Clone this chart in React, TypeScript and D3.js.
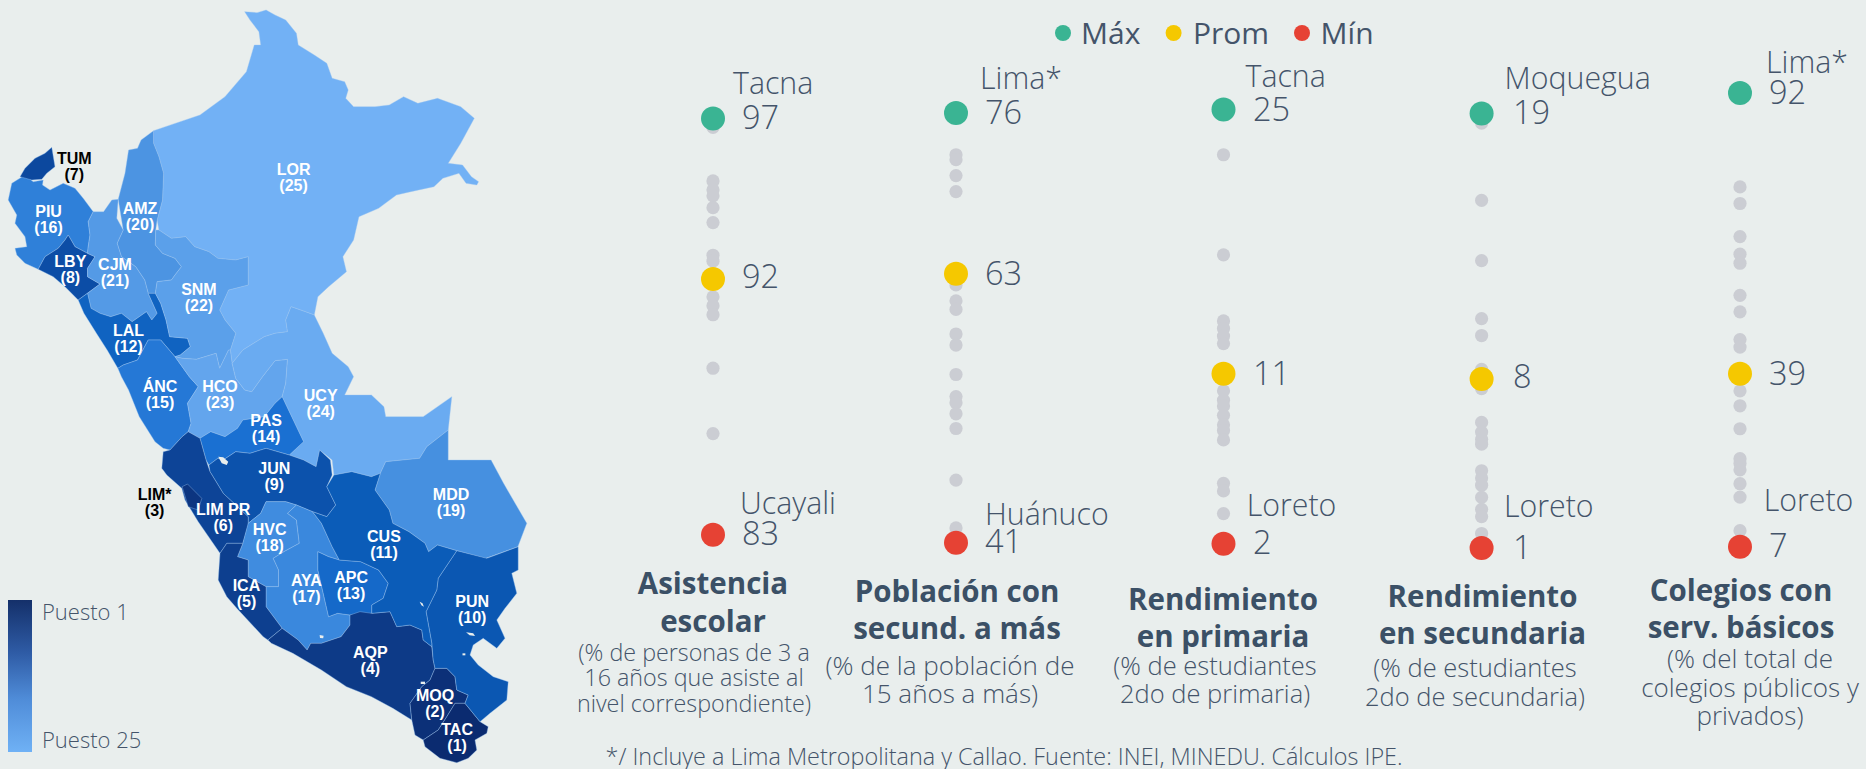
import React from 'react';
import * as d3 from 'd3';

// ---- strip plot data (values per department)
const asistencia = [96.7, 94.9, 94.6, 94.4, 94.0, 93.5, 92.4, 92.2, 91.0, 90.7, 90.4, 88.6, 86.4];
const poblacion = [72.6, 72.2, 70.9, 69.6, 62.0, 60.7, 60.0, 58.0, 57.1, 54.7, 52.9, 52.4, 51.5, 50.3, 46.1, 42.2];
const primaria = [22.6, 17.3, 13.8, 13.4, 13.0, 12.6, 10.1, 9.6, 9.3, 8.8, 8.3, 8.0, 7.5, 5.2, 4.8, 3.6];
const secundaria = [18.6, 15.4, 12.9, 10.5, 9.8, 8.4, 7.6, 6.2, 5.8, 5.5, 5.3, 4.2, 3.9, 3.6, 3.1, 2.6, 2.3, 1.6];
const colegios = [74.4, 71.3, 65.1, 61.8, 60.1, 54.1, 51.0, 45.8, 44.4, 36.2, 33.4, 29.1, 23.5, 22.6, 21.4, 18.8, 16.3, 10.0];

const maxValues = [97, 76, 25, 19, 92];
const avgValues = [91.6, 62.9, 11.0, 8.0, 39.4];
const minValues = [83, 41, 2, 1, 7];
const maxNames = ['Tacna', 'Lima*', 'Tacna', 'Moquegua', 'Lima*'];
const minNames = ['Ucayali', 'Huánuco', 'Loreto', 'Loreto', 'Loreto'];
const grayValues = [asistencia, poblacion, primaria, secundaria, colegios];

const titles = [
  ['Asistencia', 'escolar'],
  ['Población con', 'secund. a más'],
  ['Rendimiento', 'en primaria'],
  ['Rendimiento', 'en secundaria'],
  ['Colegios con', 'serv. básicos'],
];
const subtitles = [
  ['(% de personas de 3 a', '16 años que asiste al', 'nivel correspondiente)'],
  ['(% de la población de', '15 años a más)'],
  ['(% de estudiantes', '2do de primaria)'],
  ['(% de estudiantes', '2do de secundaria)'],
  ['(% del total de', 'colegios públicos y', 'privados)'],
];
const legendLabels = ['Máx', 'Prom', 'Mín'];

// ---- layout of every column, kept apart from the values
const columnLayout = [
  { x: 713, yMax: 118.5, yMin: 534.7, nameX: 733, nameMaxY: 94, valX: 742, valMaxY: 129, valAvgY: 288, nameMinX: 740, nameMinY: 514, valMinY: 545,
    titleX: 713, titleY: [594, 632], subX: 694, subY: [661, 686, 712], subSize: 23.3 },
  { x: 956, yMax: 113, yMin: 542.7, nameX: 980, nameMaxY: 89, valX: 985, valMaxY: 124, valAvgY: 285, nameMinX: 985, nameMinY: 525, valMinY: 553,
    titleX: 957, titleY: [602, 639], subX: 950, subY: [675, 703], subSize: 26 },
  { x: 1223.5, yMax: 109.4, yMin: 543.8, nameX: 1245.5, nameMaxY: 86.5, valX: 1253, valMaxY: 121, valAvgY: 385, nameMinX: 1246.7, nameMinY: 515.5, valMinY: 554,
    titleX: 1223, titleY: [610, 647], subX: 1215, subY: [675, 703], subSize: 25.5 },
  { x: 1481.6, yMax: 113.4, yMin: 548, nameX: 1504.6, nameMaxY: 89, valX: 1513, valMaxY: 124, valAvgY: 388, nameMinX: 1504, nameMinY: 517, valMinY: 559,
    titleX: 1482.5, titleY: [607, 644], subX: 1475, subY: [677, 706], subSize: 25.5 },
  { x: 1740, yMax: 93, yMin: 546.7, nameX: 1766, nameMaxY: 72.7, valX: 1769, valMaxY: 103.6, valAvgY: 385, nameMinX: 1763.7, nameMinY: 510.7, valMinY: 557,
    titleX: 1741, titleY: [601, 638], subX: 1750, subY: [668, 697, 725], subSize: 26 },
];

const BG = '#e9eeed';
const TEXT = '#44546a';
const TITLE = '#3b5066';
const GREEN = '#3ab493';
const YELLOW = '#f5c800';
const RED = '#e64234';
const GRAY = '#cbcdd3';
const LIGHT_FONT = '"Open Sans", sans-serif';

// ---- map: outlines traced by hand (trace units, see mapX / mapY)
type Pt = [number, number];
const south = (ring: Pt[]): Pt[] => ring.map(([x, y]) => [x, y + 1140] as Pt);

const ringLOR: Pt[] = [[430,392],[560,345],[630,290],[690,215],[712,135],[730,135],[725,95],[700,60],[685,35],[720,38],[745,30],[770,45],[800,60],[830,100],[835,135],[880,165],[915,190],[930,235],[965,245],[975,270],[968,295],[990,320],[1050,320],[1090,315],[1130,290],[1170,310],[1225,295],[1290,320],[1328,355],[1290,430],[1255,490],[1295,495],[1320,530],[1340,545],[1335,555],[1305,550],[1285,520],[1240,535],[1215,560],[1150,575],[1110,585],[1060,625],[1005,650],[990,720],[960,770],[970,815],[920,860],[890,890],[880,945],[855,935],[815,920],[800,960],[805,995],[770,1000],[740,1010],[710,1030],[680,1050],[650,1090],[645,1050],[660,1000],[630,960],[615,930],[640,870],[695,855],[695,770],[660,780],[610,775],[585,755],[545,740],[520,710],[480,715],[445,690],[440,660],[455,600],[458,520],[445,470],[430,430]];
const ringAMZ: Pt[] = [[430,392],[430,430],[445,470],[458,520],[455,600],[440,660],[436,690],[435,735],[455,760],[490,775],[508,800],[490,825],[480,840],[440,845],[435,880],[415,880],[405,840],[380,800],[340,770],[328,730],[345,690],[331,598],[350,520],[360,450],[385,445],[395,420]];
const ringPIU: Pt[] = [[70,525],[93,545],[121,540],[119,555],[140,570],[177,550],[210,565],[233,595],[261,635],[247,665],[252,705],[247,740],[245,760],[210,740],[191,705],[182,720],[163,745],[126,770],[107,808],[70,790],[47,765],[42,745],[75,740],[70,710],[42,670],[47,645],[23,600],[33,550]];
const ringTUM: Pt[] = [[56,530],[70,505],[98,475],[126,460],[145,442],[154,500],[131,520],[117,538],[89,540]];
const ringLBY: Pt[] = [[191,705],[210,740],[245,760],[266,770],[245,805],[245,830],[280,852],[219,900],[182,860],[149,830],[107,808],[126,770],[163,745],[182,720]];
const ringCJM: Pt[] = [[261,635],[290,635],[313,600],[331,598],[327,655],[345,690],[328,730],[340,770],[380,800],[405,840],[415,880],[440,940],[425,960],[410,935],[370,965],[340,940],[310,950],[280,940],[255,925],[245,880],[280,852],[245,830],[245,805],[266,770],[245,760],[247,740],[252,705],[247,665]];
const ringLAL: Pt[] = [[219,900],[245,880],[255,925],[280,940],[310,950],[340,940],[370,965],[410,935],[425,960],[440,940],[415,880],[435,880],[450,910],[465,960],[475,1010],[525,1015],[533,1040],[505,1065],[490,1070],[450,1020],[415,1020],[385,1080],[345,1095],[330,1105],[300,1050],[270,1000],[235,940]];
const ringANC: Pt[] = [[330,1105],[345,1095],[385,1080],[415,1020],[450,1020],[490,1070],[530,1130],[555,1160],[525,1210],[535,1270],[527,1295],[510,1310],[476,1350],[457,1345],[434,1325],[390,1250],[360,1170],[340,1130]];
const ringSNM: Pt[] = [[445,690],[480,715],[520,710],[545,740],[585,755],[610,775],[660,780],[695,770],[695,855],[640,870],[615,930],[630,960],[660,1000],[645,1050],[640,1050],[615,1105],[605,1060],[550,1078],[510,1075],[490,1070],[505,1065],[533,1040],[525,1015],[475,1010],[465,960],[450,910],[435,880],[440,845],[480,840],[490,825],[508,800],[490,775],[455,760],[435,735],[436,690]];
const ringHCO: Pt[] = [[490,1070],[510,1075],[550,1078],[605,1060],[615,1105],[640,1050],[645,1050],[650,1090],[660,1135],[685,1170],[705,1175],[735,1130],[770,1082],[805,1078],[800,1150],[790,1190],[770,1210],[740,1250],[680,1260],[665,1285],[630,1310],[590,1295],[560,1315],[527,1295],[535,1270],[525,1210],[555,1160],[530,1130]];
const ringUCY: Pt[] = [[880,945],[905,1000],[930,1060],[975,1100],[990,1130],[965,1185],[1040,1185],[1075,1220],[1080,1250],[1185,1250],[1265,1190],[1255,1290],[1195,1340],[1175,1375],[1080,1385],[1065,1420],[1040,1430],[985,1415],[935,1425],[930,1380],[895,1350],[885,1400],[850,1380],[810,1365],[850,1325],[830,1280],[810,1235],[790,1190],[800,1150],[805,1078],[770,1082],[735,1130],[705,1175],[685,1170],[660,1135],[650,1090],[680,1050],[710,1030],[740,1010],[770,1000],[805,995],[800,960],[815,920],[855,935]];
const ringMDD: Pt[] = south([[1255,150],[1255,240],[1375,240],[1410,310],[1475,430],[1450,500],[1360,535],[1279,512],[1225,495],[1200,515],[1190,490],[1145,455],[1100,430],[1090,390],[1050,330],[1065,280],[1080,245],[1175,235],[1195,200]]);
const ringPAS: Pt[] = south([[560,175],[590,155],[630,170],[665,145],[680,120],[740,110],[770,70],[790,50],[810,95],[830,140],[850,185],[810,225],[745,205],[700,220],[660,215],[625,240],[610,235],[585,255],[577,240]]);
const ringJUN: Pt[] = south([[585,255],[610,235],[625,240],[660,215],[700,220],[745,205],[810,225],[850,240],[885,260],[895,210],[925,240],[930,285],[915,320],[940,375],[915,410],[875,395],[830,375],[800,365],[745,365],[730,400],[695,430],[695,410],[625,340],[588,275]]);
const ringLIM: Pt[] = [[527,1295],[560,1315],[577,1380],[588,1415],[625,1480],[695,1550],[695,1575],[680,1630],[635,1630],[616,1660],[555,1565],[518,1500],[509,1465],[467,1425],[453,1405],[457,1355],[476,1350],[510,1310]];
const ringLMA: Pt[] = [[510,1460],[525,1452],[565,1495],[555,1530],[527,1520]];
const ringHVC: Pt[] = south([[745,365],[800,365],[830,375],[805,400],[830,420],[838,490],[795,515],[765,535],[780,570],[780,620],[745,620],[695,590],[695,540],[665,530],[680,490],[695,430],[730,400]]);
const ringAYA: Pt[] = south([[805,400],[830,375],[875,395],[900,430],[930,500],[950,540],[920,530],[890,515],[890,570],[905,640],[920,710],[945,700],[980,705],[980,735],[955,770],[900,790],[870,790],[860,810],[835,780],[790,745],[745,680],[745,620],[780,620],[780,570],[765,535],[795,515],[838,490],[830,420]]);
const ringAPC: Pt[] = south([[890,515],[920,530],[950,540],[1010,545],[1060,570],[1087,610],[1073,655],[1041,675],[1041,700],[980,705],[945,700],[920,710],[905,640],[890,570]]);
const ringICA: Pt[] = [[616,1660],[635,1630],[680,1630],[665,1670],[695,1680],[695,1730],[745,1760],[745,1820],[790,1885],[750,1920],[737,1910],[663,1825],[635,1790],[611,1740]];
const ringAQP: Pt[] = [[750,1920],[790,1885],[835,1920],[860,1950],[870,1930],[900,1930],[955,1910],[980,1875],[980,1845],[1008,1835],[1041,1840],[1092,1835],[1111,1880],[1148,1875],[1181,1890],[1185,1920],[1209,1940],[1213,1980],[1218,2005],[1204,2040],[1181,2060],[1148,2110],[1153,2160],[1100,2125],[1040,2090],[970,2060],[900,2010],[820,1960],[760,1930]];
const ringMOQ: Pt[] = [[1218,2005],[1251,2005],[1274,2030],[1279,2070],[1311,2085],[1302,2110],[1274,2110],[1251,2150],[1227,2190],[1185,2220],[1162,2205],[1153,2160],[1148,2110],[1181,2060],[1204,2040]];
const ringTAC: Pt[] = [[1185,2220],[1227,2190],[1251,2150],[1274,2110],[1302,2110],[1344,2165],[1367,2180],[1363,2200],[1330,2220],[1335,2250],[1311,2275],[1279,2288],[1232,2275],[1190,2240]];
const ringPUN: Pt[] = [[1279,1652],[1363,1675],[1451,1640],[1451,1710],[1433,1720],[1447,1780],[1414,1825],[1391,1860],[1414,1915],[1391,1945],[1353,1915],[1325,1935],[1316,1965],[1339,1995],[1381,2030],[1423,2045],[1419,2100],[1372,2140],[1344,2165],[1302,2110],[1311,2085],[1279,2070],[1274,2030],[1251,2005],[1218,2005],[1213,1980],[1209,1930],[1193,1835],[1223,1770],[1227,1735]];
const ringCUS: Pt[] = [[935,1425],[985,1415],[1040,1430],[1065,1420],[1050,1470],[1090,1530],[1100,1570],[1145,1595],[1190,1630],[1200,1655],[1225,1635],[1279,1652],[1227,1735],[1223,1770],[1193,1835],[1209,1930],[1209,1940],[1185,1920],[1181,1890],[1148,1875],[1111,1880],[1092,1835],[1041,1840],[1041,1815],[1073,1795],[1087,1750],[1060,1710],[1010,1685],[950,1680],[930,1640],[900,1570],[875,1535],[915,1550],[940,1515],[915,1460]];

// small lagoons, drawn in the background colour
const lagoons: Pt[][] = [
  [[611,1370],[625,1372],[639,1385],[635,1395],[621,1390]],
  [[1305,1897],[1325,1900],[1330,1908],[1315,1906]],
  [[1175,1805],[1183,1810],[1187,1820],[1180,1816]],
  [[895,1905],[906,1907],[905,1915],[896,1914]],
  [[1178,2045],[1190,2045],[1190,2052],[1178,2052]],
  [[1295,1960],[1303,1960],[1303,1966],[1295,1966]],
  [[1440,2042],[1447,2045],[1445,2054],[1438,2050]],
];

const regions: { code: string; rank: number; ring: Pt[]; label: Pt; dark?: boolean }[] = [
  { code: 'LOR', rank: 25, ring: ringLOR, label: [822, 507] },
  { code: 'AMZ', rank: 20, ring: ringAMZ, label: [392, 625] },
  { code: 'PIU', rank: 16, ring: ringPIU, label: [136, 633] },
  { code: 'TUM', rank: 7, ring: ringTUM, label: [208, 475], dark: true },
  { code: 'LBY', rank: 8, ring: ringLBY, label: [197, 785] },
  { code: 'CJM', rank: 21, ring: ringCJM, label: [322, 793] },
  { code: 'LAL', rank: 12, ring: ringLAL, label: [360, 990] },
  { code: 'ÁNC', rank: 15, ring: ringANC, label: [448, 1160] },
  { code: 'SNM', rank: 22, ring: ringSNM, label: [557, 867] },
  { code: 'HCO', rank: 23, ring: ringHCO, label: [616, 1160] },
  { code: 'UCY', rank: 24, ring: ringUCY, label: [898, 1186] },
  { code: 'MDD', rank: 19, ring: ringMDD, label: [1263, 1483] },
  { code: 'PAS', rank: 14, ring: ringPAS, label: [745, 1262] },
  { code: 'JUN', rank: 9, ring: ringJUN, label: [768, 1405] },
  { code: 'LIM PR', rank: 6, ring: ringLIM, label: [625, 1527] },
  { code: 'LIM*', rank: 3, ring: ringLMA, label: [433, 1483], dark: true },
  { code: 'HVC', rank: 18, ring: ringHVC, label: [755, 1588] },
  { code: 'AYA', rank: 17, ring: ringAYA, label: [858, 1740] },
  { code: 'APC', rank: 13, ring: ringAPC, label: [983, 1733] },
  { code: 'ICA', rank: 5, ring: ringICA, label: [690, 1757] },
  { code: 'AQP', rank: 4, ring: ringAQP, label: [1037, 1958] },
  { code: 'MOQ', rank: 2, ring: ringMOQ, label: [1218, 2087] },
  { code: 'TAC', rank: 1, ring: ringTAC, label: [1280, 2187] },
  { code: 'PUN', rank: 10, ring: ringPUN, label: [1322, 1803] },
  { code: 'CUS', rank: 11, ring: ringCUS, label: [1075, 1610] },
];

const mapX = d3.scaleLinear().domain([0, 1568]).range([0, 560]);
const mapY = d3.scaleLinear().domain([0, 2307]).range([0, 769]);
const rankColor = d3.scaleLinear<string>()
  .domain([1, 5, 8, 11, 14, 17, 20, 25])
  .range(['#0b2b70', '#0d3f8f', '#0c4da6', '#0b5cb8', '#1a70d2', '#3a88dd', '#4c94e2', '#72b1f5']);
const outline = d3.line<Pt>().x(d => mapX(d[0])).y(d => mapY(d[1])).curve(d3.curveLinearClosed);

export default function App() {
  return (
    <svg width={1866} height={769} style={{ position: 'fixed', left: 0, top: 0, display: 'block' }}>
      <defs>
        <linearGradient id="puesto" x1="0" y1="0" x2="0" y2="1">
          <stop offset="0%" stopColor="#14306a" />
          <stop offset="35%" stopColor="#2f5ca6" />
          <stop offset="65%" stopColor="#4f8cd8" />
          <stop offset="100%" stopColor="#6fb1f5" />
        </linearGradient>
      </defs>
      <rect width={1866} height={769} fill={BG} />

      {/* map */}
      <g>
        {regions.map(r => (
          <path key={r.code} d={outline(r.ring) || ''} fill={rankColor(r.rank)} stroke="#9cc6f2" strokeOpacity={0.55} strokeWidth={0.7} strokeLinejoin="round" />
        ))}
        {lagoons.map((l, i) => <path key={i} d={outline(l) || ''} fill={BG} />)}
        {regions.map(r => {
          const c = r.dark ? '#000' : '#fff';
          const x = mapX(r.label[0]);
          const y = mapY(r.label[1]);
          return (
            <text key={r.code} x={x} textAnchor="middle" fontFamily='"Liberation Sans", Arial, sans-serif' fontWeight={700} fontSize={16} fill={c}>
              <tspan x={x} y={y + 5.5}>{r.code}</tspan>
              <tspan x={x} y={y + 21.5}>({r.rank})</tspan>
            </text>
          );
        })}
      </g>

      {/* map legend */}
      <rect x={8} y={600} width={24} height={152} fill="url(#puesto)" />
      <text x={42} y={620} fontFamily={LIGHT_FONT} fontWeight={300} fontSize={22} fill={TEXT}>Puesto 1</text>
      <text x={42} y={747.5} fontFamily={LIGHT_FONT} fontWeight={300} fontSize={22} fill={TEXT}>Puesto 25</text>

      {/* top legend */}
      {legendLabels.map((label, i) => (
        <g key={label}>
          <circle cx={[1063, 1173.6, 1302][i]} cy={33} r={8} fill={[GREEN, YELLOW, RED][i]} />
          <text x={[1081, 1193, 1320.6][i]} y={43.6} fontFamily={LIGHT_FONT} fontWeight={400} fontSize={30} fill={TEXT}>{label}</text>
        </g>
      ))}

      {/* strip columns */}
      {columnLayout.map((c, i) => {
        const y = d3.scaleLinear().domain([minValues[i], maxValues[i]]).range([c.yMin, c.yMax]);
        const name = { fontFamily: LIGHT_FONT, fontWeight: 300, fontSize: 30.3, fill: TEXT };
        const num = { fontFamily: LIGHT_FONT, fontWeight: 300, fontSize: 32.5, fill: TEXT };
        return (
          <g key={i}>
            {grayValues[i].map((v, j) => <circle key={j} cx={c.x} cy={y(v)} r={6.6} fill={GRAY} />)}
            <circle cx={c.x} cy={y(maxValues[i])} r={12} fill={GREEN} />
            <circle cx={c.x} cy={y(avgValues[i])} r={12} fill={YELLOW} />
            <circle cx={c.x} cy={y(minValues[i])} r={12} fill={RED} />
            <text x={c.nameX} y={c.nameMaxY} {...name}>{maxNames[i]}</text>
            <text x={c.valX} y={c.valMaxY} {...num}>{maxValues[i]}</text>
            <text x={c.valX} y={c.valAvgY} {...num}>{Math.round(avgValues[i])}</text>
            <text x={c.nameMinX} y={c.nameMinY} {...name}>{minNames[i]}</text>
            <text x={c.valX} y={c.valMinY} {...num}>{minValues[i]}</text>
            {titles[i].map((t, k) => (
              <text key={k} x={c.titleX} y={c.titleY[k]} textAnchor="middle" fontFamily={LIGHT_FONT} fontWeight={700} fontSize={29.5} fill={TITLE}>{t}</text>
            ))}
            {subtitles[i].map((t, k) => (
              <text key={k} x={c.subX} y={c.subY[k]} textAnchor="middle" fontFamily={LIGHT_FONT} fontWeight={300} fontSize={c.subSize} fill={TEXT}>{t}</text>
            ))}
          </g>
        );
      })}

      <text x={605.5} y={765} fontFamily={LIGHT_FONT} fontWeight={300} fontSize={23.4} fill={TEXT}>*/ Incluye a Lima Metropolitana y Callao. Fuente: INEI, MINEDU. Cálculos IPE.</text>
    </svg>
  );
}
